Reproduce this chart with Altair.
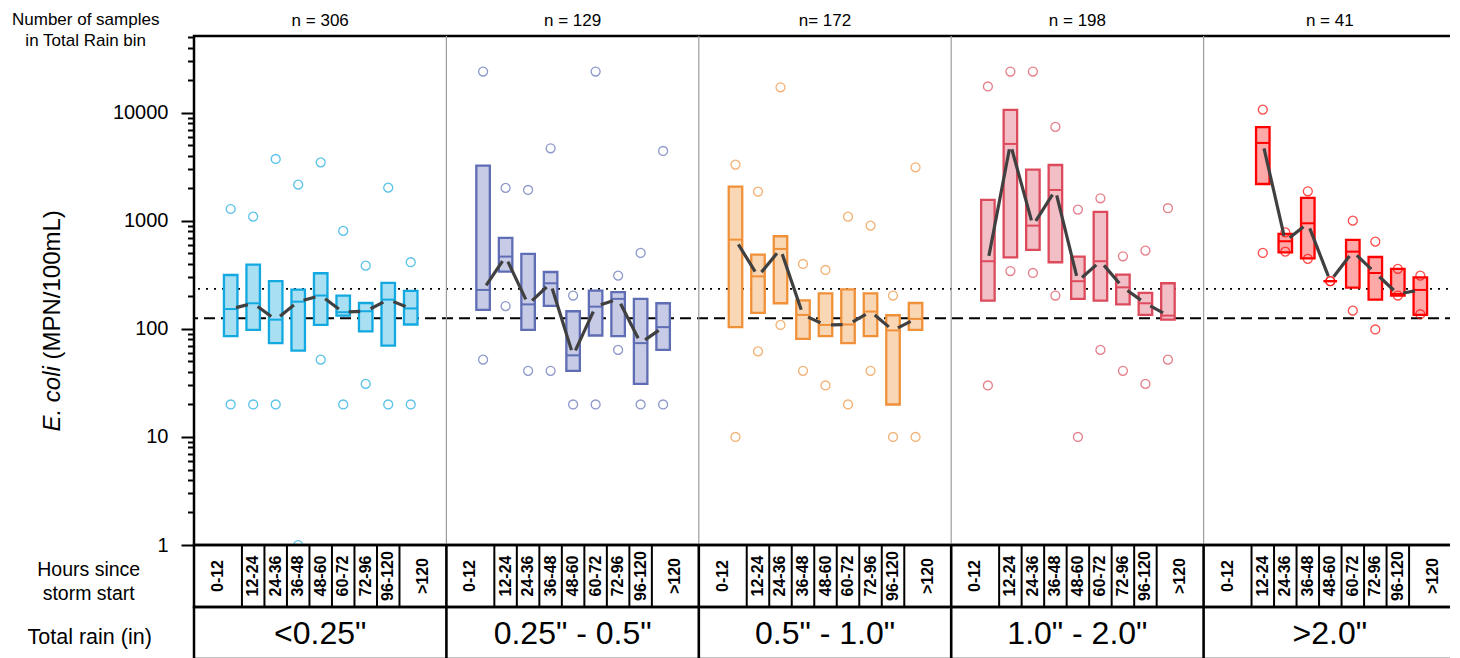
import math
import altair as alt
import pandas as pd

FONT = "Liberation Sans"

# ---------------- data ----------------
hours = ["0-12", "12-24", "24-36", "36-48", "48-60", "60-72", "72-96", "96-120", ">120"]
rain_bins = ['<0.25"', '0.25" - 0.5"', '0.5" - 1.0"', '1.0" - 2.0"', '>2.0"']
n_labels = ["n = 306", "n = 129", "n= 172", "n = 198", "n = 41"]

q3 = [
    [316, 394, 277, 231, 328, 204, 174, 267, 225],
    [3255, 697, 495, 337, 146, 227, 219, 190, 173],
    [2080, 488, 722, 184, 214, 233, 214, 134, 174],
    [1566, 10670, 2990, 3300, 468, 1213, 319, 216, 265],
    [None, 7380, 759, 1633, 277, 667, 464, 360, 301],
]
median = [
    [153, 173, 122, 179, 204, 143, 146, 187, 155],
    [230, 468, 169, 265, 57, 161, 190, 74, 104],
    [672, 307, 551, 135, 109, 110, 145, 97, 124],
    [424, 5170, 906, 1937, 277, 424, 243, 173, 133],
    [None, 5280, 649, 952, 277, 520, 330, 211, 230],
]
q1 = [
    [86, 98, 74, 63, 109, 133, 95, 70, 110],
    [150, 340, 98, 164, 41, 87, 86, 31, 64],
    [104, 141, 173, 81, 86, 74, 86, 20, 98],
    [183, 461, 539, 415, 190, 183, 169, 135, 122],
    [None, 2200, 513, 451, 277, 242, 187, 204, 135],
]
hi = [
    [1291, 1097, 3750, 2170, 3490, 809, 386, 2036, 415],
    [24196, 2024, 1937, 4710, 204, 24196, 312, 506, 4450],
    [3325, 1870, 17300, 400, 352, 1097, 906, 204, 3140],
    [17600, 24196, 24196, 7430, 1274, 1622, 471, 532, 1312],
    [None, 10740, 785, 1884, 277, 1007, 644, 360, 312],
]
lo = [
    [20, 20, 20, 1, 52, 20, 31, 20, 20],
    [52, 163, 41, 41, 20, 20, 64, 20, 20],
    [10, 62, 109, 41, 30, 20, 41, 10, 10],
    [30, 344, 330, 204, 10, 64, 41, 31, 52],
    [None, 506, 520, 446, 277, 148, 99, 204, 137],
]
EPA_STV = 235   # dotted reference line
EPA_GM = 126    # dashed reference line

stroke_colors = ["#12A9E0", "#5F6DB5", "#F0913A", "#DC4A5C", "#FF0000"]
fill_colors = ["#A8DFF3", "#C7CBE5", "#F9D7B5", "#F2BFC7", "#FFA8A8"]

# ---------------- table built from the arrays ----------------
rows = []
for p, rb in enumerate(rain_bins):
    for i, h in enumerate(hours):
        rows.append(dict(rain=rb, p=p, i=i, hour=h, q1=q1[p][i], med=median[p][i],
                         q3=q3[p][i], lo=lo[p][i], hi=hi[p][i]))
df = pd.DataFrame(rows)
panels = pd.DataFrame({"p": list(range(5)), "n": n_labels, "rain": rain_bins})
inner = pd.DataFrame({"p": [1, 2, 3, 4]})
cells = pd.DataFrame([{"p": p, "j": j} for p in range(5) for j in range(8)])

# ---------------- layout constants ----------------
W = 11.215      # panel width in slot units
OFF = 1.63      # first box centre inside a panel
HALF = 0.3      # half box width
XMAX = 5 * W
PW, PH = 1262, 509
YMAX = 51600
GAP = 5.5       # px trimmed at each end of median connectors
S = PW / XMAX
D = PH / math.log10(YMAX)

xs = alt.Scale(domain=[0, XMAX], nice=False, zero=False)
ys = alt.Scale(type="log", domain=[1, YMAX], nice=False)
sc_stroke = alt.Scale(domain=rain_bins, range=stroke_colors)
sc_fill = alt.Scale(domain=rain_bins, range=fill_colors)

major_vals = [1, 10, 100, 1000, 10000]
minor_vals = [m * 10 ** k for k in range(5) for m in range(2, 10) if m * 10 ** k <= YMAX]

common_ax = dict(domain=False, grid=False, title=None, tickColor="black", tickWidth=2,
                 minExtent=0)
ax_lmaj = alt.Axis(orient="left", values=major_vals, format="d", tickSize=13,
                   labelFontSize=20, labelFont=FONT, labelColor="black", labelPadding=13, **common_ax)
ax_lmin = alt.Axis(orient="left", values=minor_vals, labels=False, tickSize=6.5, **common_ax)
ax_rmaj = alt.Axis(orient="right", values=major_vals, labels=False, tickSize=4, maxExtent=4, **common_ax)
ax_rmin = alt.Axis(orient="right", values=minor_vals, labels=False, tickSize=4, maxExtent=4, **common_ax)

base = (alt.Chart(df)
        .transform_filter("isValid(datum.med)")
        .transform_calculate(pos=f"datum.p*{W}+{OFF}+datum.i")
        .transform_calculate(xl=f"datum.pos-{HALF}", xr=f"datum.pos+{HALF}"))

ref_dot = alt.Chart(pd.DataFrame({"v": [EPA_STV]})).mark_rule(
    color="black", strokeWidth=1.8, strokeDash=[2, 6]).encode(
    y=alt.Y("v:Q", scale=ys, axis=ax_lmaj))
ref_dash = alt.Chart(pd.DataFrame({"v": [EPA_GM]})).mark_rule(
    color="black", strokeWidth=2, strokeDash=[11, 6]).encode(
    y=alt.Y("v:Q", scale=ys, axis=ax_lmin))

sep = alt.Chart(inner).transform_calculate(b=f"datum.p*{W}").mark_rule(
    color="#9d9d9d", strokeWidth=1.2).encode(x=alt.X("b:Q", scale=xs, axis=None))

boxes = base.mark_rect(strokeWidth=2.3).encode(
    x=alt.X("xl:Q", scale=xs, axis=None), x2="xr:Q",
    y=alt.Y("q1:Q", scale=ys, axis=ax_rmaj), y2="q3:Q",
    fill=alt.Fill("rain:N", scale=sc_fill, legend=None),
    stroke=alt.Stroke("rain:N", scale=sc_stroke, legend=None))

meds = base.mark_rule(strokeWidth=2).encode(
    x=alt.X("xl:Q", scale=xs, axis=None), x2="xr:Q",
    y=alt.Y("med:Q", scale=ys, axis=ax_rmin),
    color=alt.Color("rain:N", scale=sc_stroke, legend=None))

pts = base.transform_fold(["lo", "hi"], as_=["kind", "val"]).mark_point(
    shape="circle", filled=False, size=80, strokeWidth=1.3, clip=True).encode(
    x=alt.X("pos:Q", scale=xs, axis=None),
    y=alt.Y("val:Q", scale=ys, axis=None),
    color=alt.Color("rain:N", scale=sc_stroke, legend=None))

segs = (base
        .transform_window(window=[alt.WindowFieldDef(op="lead", field="pos", **{"as": "nx"}),
                                  alt.WindowFieldDef(op="lead", field="med", **{"as": "nm"})],
                          groupby=["p"], sort=[alt.SortField("i")])
        .transform_filter("isValid(datum.nx)")
        .transform_calculate(lm="log(datum.med)/LN10", ln="log(datum.nm)/LN10")
        .transform_calculate(dx=f"(datum.nx-datum.pos)*{S}", dy=f"(datum.ln-datum.lm)*{D}")
        .transform_calculate(t=f"{GAP}/sqrt(datum.dx*datum.dx+datum.dy*datum.dy)")
        .transform_calculate(
            x1="datum.pos+(datum.nx-datum.pos)*datum.t",
            x2="datum.nx-(datum.nx-datum.pos)*datum.t",
            y1="pow(10, datum.lm+(datum.ln-datum.lm)*datum.t)",
            y2="pow(10, datum.ln-(datum.ln-datum.lm)*datum.t)")
        .mark_rule(color="#404040", strokeWidth=3.2)
        .encode(x=alt.X("x1:Q", scale=xs, axis=None), x2="x2:Q",
                y=alt.Y("y1:Q", scale=ys, axis=None), y2="y2:Q"))

ntext = alt.Chart(panels).transform_calculate(c=f"datum.p*{W}+{W/2}").mark_text(
    fontSize=17, font=FONT, baseline="alphabetic", color="black").encode(
    x=alt.X("c:Q", scale=xs, axis=None), y=alt.value(-10.3), text="n:N")


def label(txt, x, y, size, **kw):
    return alt.Chart(pd.DataFrame({"t": [txt]})).mark_text(
        fontSize=size, font=FONT, color="black", **kw).encode(
        text="t:N", x=alt.value(x), y=alt.value(y))


lab1 = label("Number of samples", -108.3, -11, 17, baseline="alphabetic")
lab2 = label("in Total Rain bin", -108.3, 9.7, 17, baseline="alphabetic")
yt1 = label("E. coli", -141, 395.5, 24, angle=270, align="left", baseline="middle", fontStyle="italic")
yt2 = label("(MPN/100mL)", -141, 323.5, 24, angle=270, align="left", baseline="middle")

anchor = alt.Chart(pd.DataFrame({"a": [0]})).mark_rule(opacity=0, strokeWidth=1).encode(
    x=alt.value(-185.3), x2=alt.value(-180), y=alt.value(-29))

main = alt.layer(ref_dot, ref_dash, sep, boxes, meds, pts, segs, ntext,
                 lab1, lab2, yt1, yt2, anchor).resolve_axis(y="independent").properties(
    width=PW, height=PH)

# ---------------- hours table ----------------
thin = alt.Chart(cells).transform_calculate(x=f"datum.p*{W}+{OFF + 0.5}+datum.j").mark_rule(
    color="black", strokeWidth=2).encode(x=alt.X("x:Q", scale=xs, axis=None))
thick = alt.Chart(inner).transform_calculate(b=f"datum.p*{W}").mark_rule(
    color="black", strokeWidth=2.6).encode(x=alt.X("b:Q", scale=xs, axis=None))
hx = (f"datum.i==0 ? datum.p*{W}+{(OFF + 0.5) / 2} : "
      f"(datum.i==8 ? datum.p*{W}+{(OFF + 7.5 + W) / 2} : datum.p*{W}+{OFF}+datum.i)")
htext = alt.Chart(df).transform_calculate(xc=hx).mark_text(
    angle=270, fontWeight="bold", fontSize=16, font=FONT, baseline="middle",
    align="center", color="black").encode(
    x=alt.X("xc:Q", scale=xs, axis=None), y=alt.value(31), text="hour:N")
hl1 = label("Hours since", -105.3, 30.7, 19.5, baseline="alphabetic")
hl2 = label("storm start", -105.3, 55, 19.5, baseline="alphabetic")
hours_chart = alt.layer(thin, thick, htext, hl1, hl2).properties(width=PW, height=62)

# ---------------- rain table ----------------
rtext = alt.Chart(panels).transform_calculate(c=f"datum.p*{W}+{W/2}").mark_text(
    fontSize=32, font=FONT, baseline="alphabetic", color="black").encode(
    x=alt.X("c:Q", scale=xs, axis=None), y=alt.value(37), text="rain:N")
rl = label("Total rain (in)", -104.3, 37, 21.5, baseline="alphabetic")
rain_chart = alt.layer(thick, rtext, rl).properties(width=PW, height=52)

chart = alt.vconcat(main, hours_chart, rain_chart, spacing=0, bounds="flush").properties(
    padding={"left": -1, "top": -3, "right": -13, "bottom": 0},
    background="white").configure_view(stroke="black", strokeWidth=2.5)

chart.save("out.html", embed_options={"renderer": "svg", "actions": False})
